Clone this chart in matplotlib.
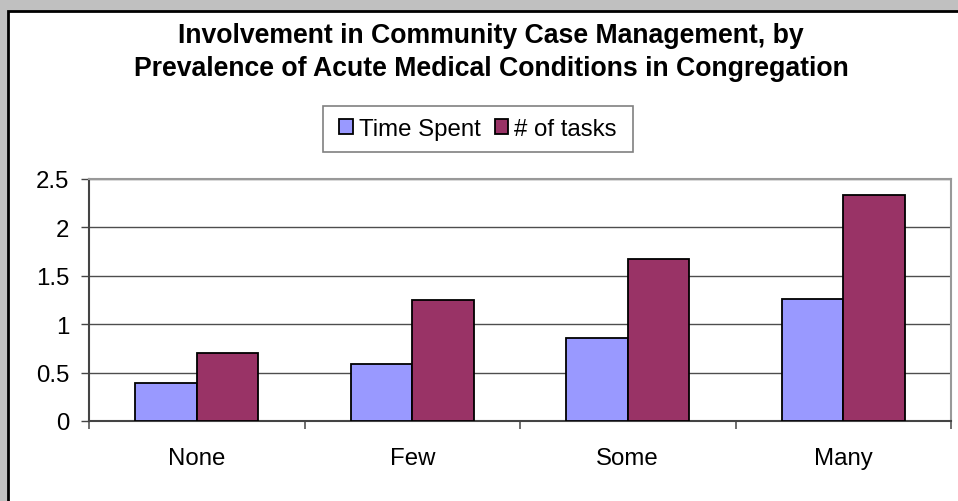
import matplotlib
matplotlib.use('Agg')
import matplotlib.pyplot as plt
from matplotlib.patches import Rectangle, Patch
import numpy as np

# data
categories = ["None", "Few", "Some", "Many"]
time_spent = [0.39, 0.59, 0.86, 1.26]
num_tasks = [0.70, 1.25, 1.67, 2.33]
series_names = ["Time Spent", "# of tasks"]
yticks = [0, 0.5, 1, 1.5, 2, 2.5]
title_lines = ["Involvement in Community Case Management, by",
               "Prevalence of Acute Medical Conditions in Congregation"]

plt.rcParams['font.family'] = ['Liberation Sans', 'DejaVu Sans']

W, H = 958, 502
fig = plt.figure(figsize=(W / 100, H / 100), dpi=100)
fig.patch.set_facecolor('#C0C0C0')

# white chart area with black border (behind everything)
fig.patches.append(Rectangle((8 / W, -0.01), 1 - 8 / W + 0.01, 1 - 12 / H + 0.01,
                             transform=fig.transFigure, facecolor='white',
                             edgecolor='black', linewidth=2, zorder=-10))

ax = fig.add_axes([89 / W, 1 - 422 / H, (951 - 89) / W, (422 - 180) / H])
ax.set_facecolor('white')

x = np.arange(len(categories))
w = 1 / 3.5
c1, c2 = '#9999FF', '#993366'
ax.bar(x - w / 2, time_spent, w, color=c1, edgecolor='black', linewidth=1.3, zorder=3)
ax.bar(x + w / 2, num_tasks, w, color=c2, edgecolor='black', linewidth=1.3, zorder=3)

ax.set_xlim(-0.5, len(categories) - 0.5)
ax.set_ylim(0, 2.5)
ax.set_yticks(yticks)
ax.set_yticklabels([f"{v:g}" for v in yticks])
ax.yaxis.grid(True, color='#4d4d4d', linewidth=1.0, zorder=1)
ax.set_axisbelow(True)

ax.set_xticks(x)
ax.set_xticklabels(categories)
ax.set_xticks(np.arange(-0.5, len(categories)), minor=True)
ax.tick_params(axis='x', which='major', length=0, pad=19, labelsize=17.3)
ax.tick_params(axis='x', which='minor', length=6, width=1.2, color='#555555', direction='out')
ax.tick_params(axis='y', length=6, width=1.0, color='#444444', pad=8, labelsize=17.3)

for s in ['top', 'right']:
    ax.spines[s].set_color('#999999')
    ax.spines[s].set_linewidth(1.5)
for s in ['left', 'bottom']:
    ax.spines[s].set_color('#444444')
    ax.spines[s].set_linewidth(1.5)

# title, two lines
fig.text(491 / W, 1 - 43 / H, title_lines[0], ha='center', va='baseline',
         fontsize=19.2, fontweight='bold')
fig.text(491 / W, 1 - 76 / H, title_lines[1], ha='center', va='baseline',
         fontsize=19.2, fontweight='bold')

# legend with its own box
fig.patches.append(Rectangle((323 / W, 1 - 153 / H), (633 - 323) / W, (153 - 107) / H,
                             transform=fig.transFigure, facecolor='white',
                             edgecolor='#808080', linewidth=1.2, zorder=1))
handles = [Patch(facecolor=c1, edgecolor='black', linewidth=1.3),
           Patch(facecolor=c2, edgecolor='black', linewidth=1.3)]
fig.legend(handles, series_names, loc='center', bbox_to_anchor=(478 / W, 1 - 130 / H),
           ncol=2, frameon=False, fontsize=17.3, handlelength=0.55, handleheight=0.55,
           handletextpad=0.25, columnspacing=0.6, borderpad=0)

plt.savefig('out.png', dpi=100, facecolor=fig.get_facecolor())
